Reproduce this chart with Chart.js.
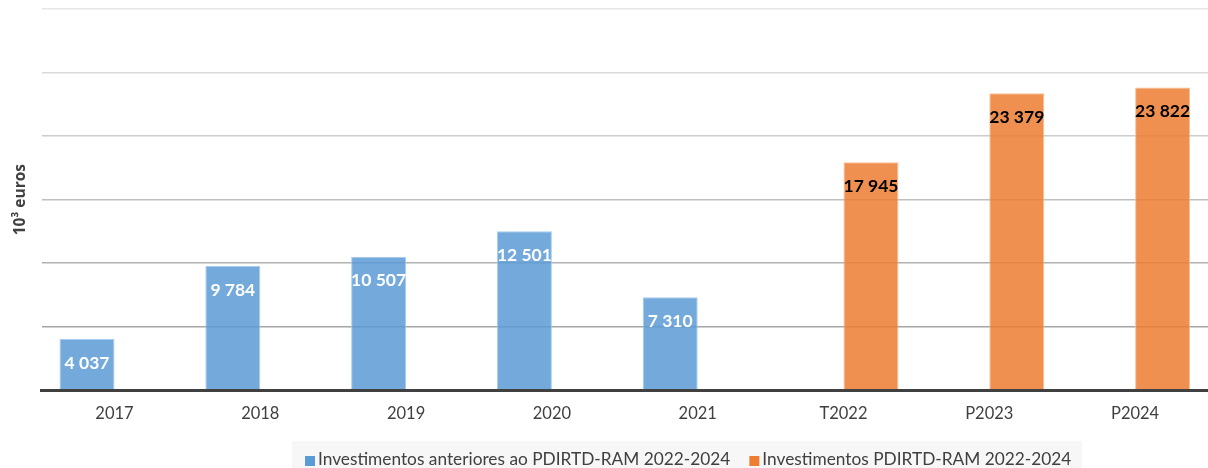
<!DOCTYPE html>
<html><head><meta charset="utf-8">
<script src="https://cdn.jsdelivr.net/npm/chart.js@4/dist/chart.umd.min.js"></script>
<style>html,body{margin:0;padding:0;background:#fff}#wrap{width:1208px;height:468px}</style>
</head><body><div id="wrap"><canvas id="c"></canvas></div>
<script>
const categories = ['2017','2018','2019','2020','2021','T2022','P2023','P2024'];
const anteriores = [4037, 9784, 10507, 12501, 7310, null, null, null];
const pdirtd = [null, null, null, null, null, 17945, 23379, 23822];
const seriesNames = ['Investimentos anteriores ao PDIRTD-RAM 2022-2024','Investimentos PDIRTD-RAM 2022-2024'];
const yTicks = [0, 5000, 10000, 15000, 20000, 25000, 30000];
const gridColors = ['#404040','#a6a6a6','#b2b2b2','#bfbfbf','#cccccc','#d9d9d9','#e6e6e6'];
const legendColors = ['#5b9bd5', '#ed7d31'];
const FONT = 'Lato, "Open Sans", sans-serif';

function fmt(v){ return String(v).replace(/\B(?=(\d{3})+(?!\d))/g,' '); }

const customLegend = {
  id:'customLegend',
  afterDraw(chart){
    const ctx = chart.ctx; ctx.save();
    ctx.fillStyle = '#f7f7f7';
    ctx.fillRect(292, 441, 790, chart.height - 441);
    ctx.font = '17.3px ' + FONT; ctx.textBaseline = 'alphabetic'; ctx.textAlign = 'left';
    let x = 305;
    chart.data.datasets.forEach((ds, i)=>{
      ctx.fillStyle = legendColors[i];
      ctx.fillRect(x, 456, 10, 10);
      ctx.fillStyle = '#404040';
      ctx.fillText(ds.label, x + 13, 465);
      x += 13 + ctx.measureText(ds.label).width + 19;
    });
    ctx.restore();
  }
};
const barLabels = {
  id:'barLabels',
  afterDatasetsDraw(chart){
    const ctx = chart.ctx; ctx.save();
    ctx.font = 'bold 17.5px ' + FONT; ctx.textAlign='center'; ctx.textBaseline='middle';
    chart.data.datasets.forEach((ds, di)=>{
      const meta = chart.getDatasetMeta(di);
      meta.data.forEach((el, i)=>{
        const v = ds.data[i]; if(v==null) return;
        ctx.fillStyle = di===0 ? '#ffffff' : '#000000';
        ctx.fillText(fmt(v), el.x, el.y + 24);
      });
    });
    ctx.restore();
  }
};

new Chart(document.getElementById('c'), {
  type:'bar',
  data:{ labels: categories, datasets:[
    {label: seriesNames[0], data: anteriores, backgroundColor:'rgba(91,155,213,0.85)', borderColor:'rgba(160,200,235,0.9)', borderWidth:1, categoryPercentage:0.754, barPercentage:1},
    {label: seriesNames[1], data: pdirtd, backgroundColor:'rgba(237,125,49,0.85)', borderColor:'rgba(248,185,140,0.9)', borderWidth:1, categoryPercentage:0.754, barPercentage:1}
  ]},
  options:{
    responsive:true, maintainAspectRatio:false, animation:false,
    layout:{ padding:{ left:7, right:0, top:9, bottom:38 } },
    plugins:{
      legend:{ display:false },
      tooltip:{ enabled:false }
    },
    scales:{
      x:{ grid:{ display:false }, border:{ display:true, color:'#404040', width:3, z:1 },
          ticks:{ color:'#404040', font:{family:FONT, size:16.5}, padding:6 } },
      y:{ min:0, max:30000, afterBuildTicks(s){ s.ticks = yTicks.map(v=>({value:v})); },
          ticks:{ display:false },
          grid:{ color:(c)=> gridColors[c.index] || '#d9d9d9', lineWidth:1.5, drawTicks:false },
          border:{ display:false },
          title:{ display:true, text:'10³ euros', color:'#404040', font:{family:'"Open Sans", sans-serif', size:15.5, weight:'bold'}, padding:{top:4, bottom:12} } }
    }
  },
  plugins:[barLabels, customLegend]
});
</script></body></html>
